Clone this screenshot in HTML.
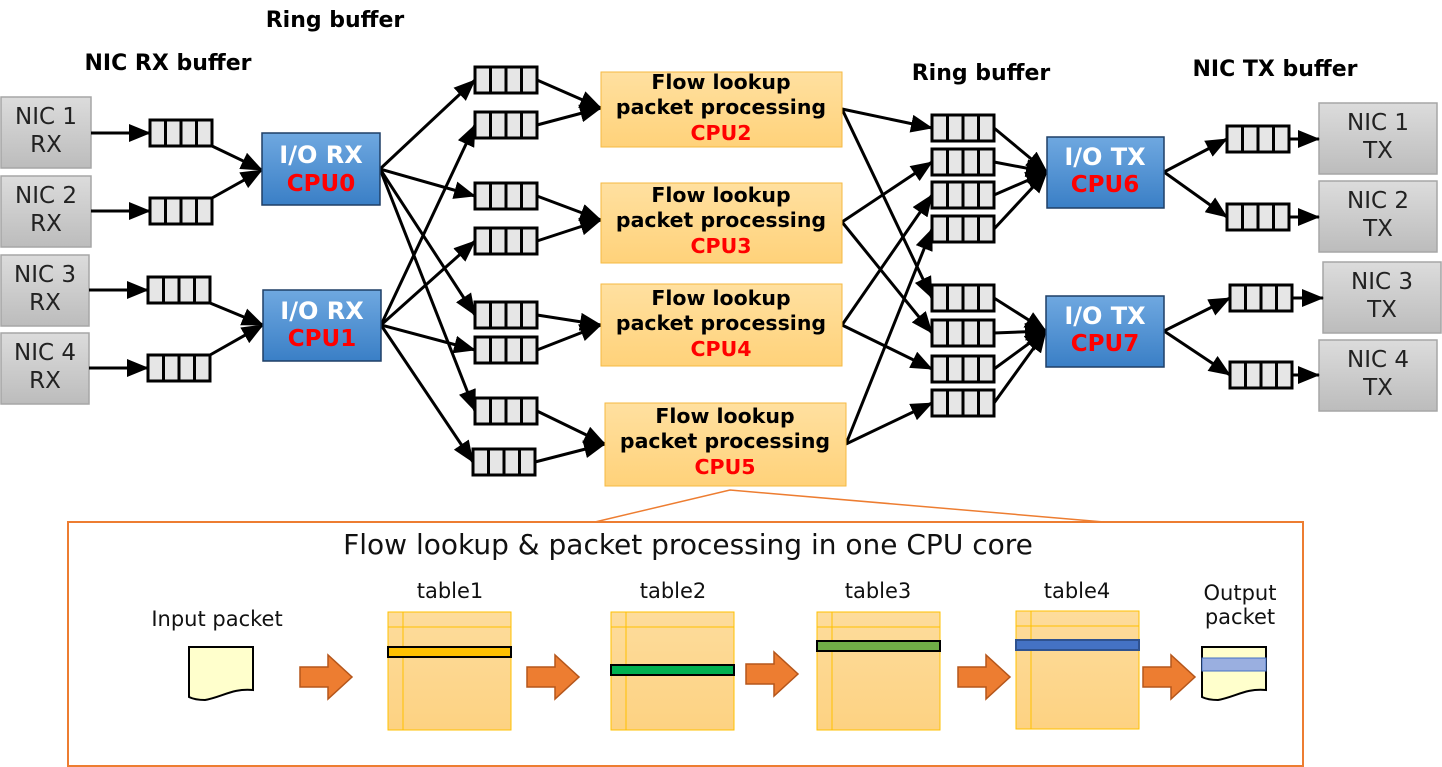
<!DOCTYPE html>
<html><head><meta charset="utf-8"><style>body{margin:0;background:#fff}svg{display:block}text{font-family:"DejaVu Sans","Liberation Sans",sans-serif}</style></head><body>
<svg width="1442" height="767" viewBox="0 0 1442 767" xmlns="http://www.w3.org/2000/svg">
<defs>
<marker id="a" markerWidth="22" markerHeight="18" refX="21" refY="9" orient="auto" markerUnits="userSpaceOnUse"><path d="M0,0 L22,9 L0,18 z" fill="#000"/></marker>
<linearGradient id="g" x1="0" y1="0" x2="0" y2="1"><stop offset="0" stop-color="#dcdcdc"/><stop offset="1" stop-color="#bcbcbc"/></linearGradient>
<linearGradient id="b" x1="0" y1="0" x2="0" y2="1"><stop offset="0" stop-color="#6fa8e0"/><stop offset="1" stop-color="#3a7fc6"/></linearGradient>
<linearGradient id="o" x1="0" y1="0" x2="0" y2="1"><stop offset="0" stop-color="#ffe0a0"/><stop offset="1" stop-color="#ffd27a"/></linearGradient>
<linearGradient id="t" x1="0" y1="0" x2="0" y2="1"><stop offset="0" stop-color="#fddc9c"/><stop offset="1" stop-color="#fdd282"/></linearGradient>
<g id="q"><rect x="0" y="0" width="62" height="26" fill="#e6e6e6" stroke="#000" stroke-width="3"/><path d="M15.5,0V26M31,0V26M46.5,0V26" stroke="#000" stroke-width="3"/></g>
<g id="ar"><path d="M0,12 H28 V0 L52,22 L28,44 V32 H0 z" fill="#ed7d31" stroke="#b5561b" stroke-width="1.5"/></g>
</defs>

<g font-weight="bold" font-size="22" fill="#000" text-anchor="middle">
<text x="168" y="70">NIC RX buffer</text>
<text x="335" y="27">Ring buffer</text>
<text x="981" y="80">Ring buffer</text>
<text x="1275" y="76">NIC TX buffer</text>
</g>

<g fill="url(#g)" stroke="#a6a6a6" stroke-width="1.5">
<rect x="1" y="97" width="90" height="71"/><rect x="1" y="176" width="90" height="71"/>
<rect x="1" y="255" width="88" height="71"/><rect x="1" y="333" width="88" height="71"/>
<rect x="1319" y="103" width="118" height="71"/><rect x="1319" y="181" width="118" height="71"/>
<rect x="1323" y="262" width="118" height="71"/><rect x="1319" y="340" width="118" height="71"/>
</g>
<g font-size="23" text-anchor="middle" fill="#222">
<text x="46" y="124">NIC 1</text><text x="46" y="152">RX</text>
<text x="46" y="203">NIC 2</text><text x="46" y="231">RX</text>
<text x="45" y="282">NIC 3</text><text x="45" y="310">RX</text>
<text x="45" y="360">NIC 4</text><text x="45" y="388">RX</text>
<text x="1378" y="130">NIC 1</text><text x="1378" y="158">TX</text>
<text x="1378" y="208">NIC 2</text><text x="1378" y="236">TX</text>
<text x="1382" y="289">NIC 3</text><text x="1382" y="317">TX</text>
<text x="1378" y="367">NIC 4</text><text x="1378" y="395">TX</text>
</g>

<g stroke="#000" stroke-width="3" fill="none" marker-end="url(#a)">
<path d="M91,133H150"/><path d="M91,211H150"/><path d="M89,290H148"/><path d="M89,368H148"/>
<path d="M212,146L262,170"/><path d="M212,198L262,170"/><path d="M210,303L263,325"/><path d="M210,355L263,325"/>
<path d="M380,169L475,80"/><path d="M380,169L475,196"/><path d="M380,169L475,315"/><path d="M380,169L475,411"/>
<path d="M381,325L475,125"/><path d="M381,325L475,241"/><path d="M381,325L475,350"/><path d="M381,325L473,462"/>
<path d="M537,80L601,108"/><path d="M537,125L601,108"/><path d="M537,196L601,220"/><path d="M537,241L601,220"/>
<path d="M537,315L601,325"/><path d="M537,350L601,325"/><path d="M537,411L605,444"/><path d="M535,462L605,444"/>
<path d="M842,109L932,128"/><path d="M842,109L932,298"/><path d="M842,222L932,162"/><path d="M842,222L932,333"/>
<path d="M842,325L932,195"/><path d="M842,325L932,369"/><path d="M846,444L932,229"/><path d="M846,444L932,403"/>
<path d="M994,128L1047,172"/><path d="M994,162L1047,172"/><path d="M994,195L1047,172"/><path d="M994,229L1047,172"/>
<path d="M994,298L1046,331"/><path d="M994,333L1046,331"/><path d="M994,369L1046,331"/><path d="M994,403L1046,331"/>
<path d="M1164,172L1227,139"/><path d="M1164,172L1227,217"/><path d="M1164,331L1230,298"/><path d="M1164,331L1230,375"/>
<path d="M1289,139H1319"/><path d="M1289,217H1319"/><path d="M1292,298H1323"/><path d="M1292,375H1319"/>
</g>

<use href="#q" x="150" y="120"/><use href="#q" x="150" y="198"/><use href="#q" x="148" y="277"/><use href="#q" x="148" y="355"/>
<use href="#q" x="475" y="67"/><use href="#q" x="475" y="112"/><use href="#q" x="475" y="183"/><use href="#q" x="475" y="228"/>
<use href="#q" x="475" y="302"/><use href="#q" x="475" y="337"/><use href="#q" x="475" y="398"/><use href="#q" x="473" y="449"/>
<use href="#q" x="932" y="115"/><use href="#q" x="932" y="149"/><use href="#q" x="932" y="182"/><use href="#q" x="932" y="216"/>
<use href="#q" x="932" y="285"/><use href="#q" x="932" y="320"/><use href="#q" x="932" y="356"/><use href="#q" x="932" y="390"/>
<use href="#q" x="1227" y="126"/><use href="#q" x="1227" y="204"/><use href="#q" x="1230" y="285"/><use href="#q" x="1230" y="362"/>

<g fill="url(#b)" stroke="#1f3f66" stroke-width="1.5">
<rect x="262" y="133" width="118" height="72"/><rect x="263" y="290" width="118" height="71"/>
<rect x="1047" y="137" width="117" height="71"/><rect x="1046" y="296" width="118" height="71"/>
</g>
<g font-size="24" font-weight="bold" text-anchor="middle">
<text x="321" y="163" fill="#fff">I/O RX</text><text x="321" y="191" fill="#f00" font-size="23">CPU0</text>
<text x="322" y="319" fill="#fff">I/O RX</text><text x="322" y="346" fill="#f00" font-size="23">CPU1</text>
<text x="1105" y="165" fill="#fff">I/O TX</text><text x="1105" y="192" fill="#f00" font-size="23">CPU6</text>
<text x="1105" y="324" fill="#fff">I/O TX</text><text x="1105" y="351" fill="#f00" font-size="23">CPU7</text>
</g>

<g fill="url(#o)" stroke="#f5b942" stroke-width="1">
<rect x="601" y="72" width="241" height="75"/><rect x="601" y="183" width="241" height="80"/>
<rect x="601" y="284" width="241" height="82"/><rect x="605" y="403" width="241" height="83"/>
</g>
<g font-size="20.5" font-weight="bold" text-anchor="middle">
<text x="721" y="89">Flow lookup</text><text x="721" y="114">packet processing</text><text x="721" y="140" fill="#f00">CPU2</text>
<text x="721" y="202">Flow lookup</text><text x="721" y="227">packet processing</text><text x="721" y="253" fill="#f00">CPU3</text>
<text x="721" y="305">Flow lookup</text><text x="721" y="330">packet processing</text><text x="721" y="356" fill="#f00">CPU4</text>
<text x="725" y="423">Flow lookup</text><text x="725" y="448">packet processing</text><text x="725" y="474" fill="#f00">CPU5</text>
</g>

<rect x="68" y="522" width="1235" height="244" fill="none" stroke="#ed7d31" stroke-width="2"/>
<path d="M595,522 L730,490 L1104,522" fill="none" stroke="#ed7d31" stroke-width="1.5"/>
<text x="688" y="554" font-size="28" text-anchor="middle" fill="#111">Flow lookup &amp; packet processing in one CPU core</text>
<g font-size="21" text-anchor="middle" fill="#111">
<text x="217" y="626">Input packet</text>
<text x="450" y="598">table1</text><text x="673" y="598">table2</text><text x="878" y="598">table3</text><text x="1077" y="598">table4</text>
<text x="1240" y="600">Output</text><text x="1240" y="624">packet</text>
</g>
<path d="M189,647H253V690C233,688 222,697 205,700C198,700 193,699 189,697z" fill="#ffffcc" stroke="#000" stroke-width="2"/>
<path d="M1202,647H1266V690C1246,688 1235,697 1218,700C1211,700 1206,699 1202,697z" fill="#ffffcc" stroke="#000" stroke-width="2"/>
<rect x="1202" y="658" width="64" height="13" fill="#9aafe0" stroke="#4472c4" stroke-width="1"/>
<g fill="url(#t)" stroke="#ffc000" stroke-width="1">
<rect x="388" y="612" width="123" height="118"/><rect x="611" y="612" width="123" height="118"/>
<rect x="817" y="612" width="123" height="118"/><rect x="1016" y="611" width="123" height="118"/>
</g>
<g stroke="#ffc000" stroke-width="1">
<path d="M403,612V730M388,627H511"/><path d="M626,612V730M611,627H734"/>
<path d="M832,612V730M817,627H940"/><path d="M1031,611V729M1016,626H1139"/>
</g>
<g stroke="#000" stroke-width="2">
<rect x="388" y="647" width="123" height="10" fill="#ffc000"/>
<rect x="611" y="665" width="123" height="10" fill="#00b050"/>
<rect x="817" y="641" width="123" height="10" fill="#70ad47"/>
<rect x="1016" y="640" width="123" height="10" fill="#4472c4" stroke="#2f528f"/>
</g>
<use href="#ar" x="300" y="655"/><use href="#ar" x="527" y="655"/><use href="#ar" x="746" y="652"/><use href="#ar" x="958" y="655"/><use href="#ar" x="1143" y="655"/>
</svg>
</body></html>
